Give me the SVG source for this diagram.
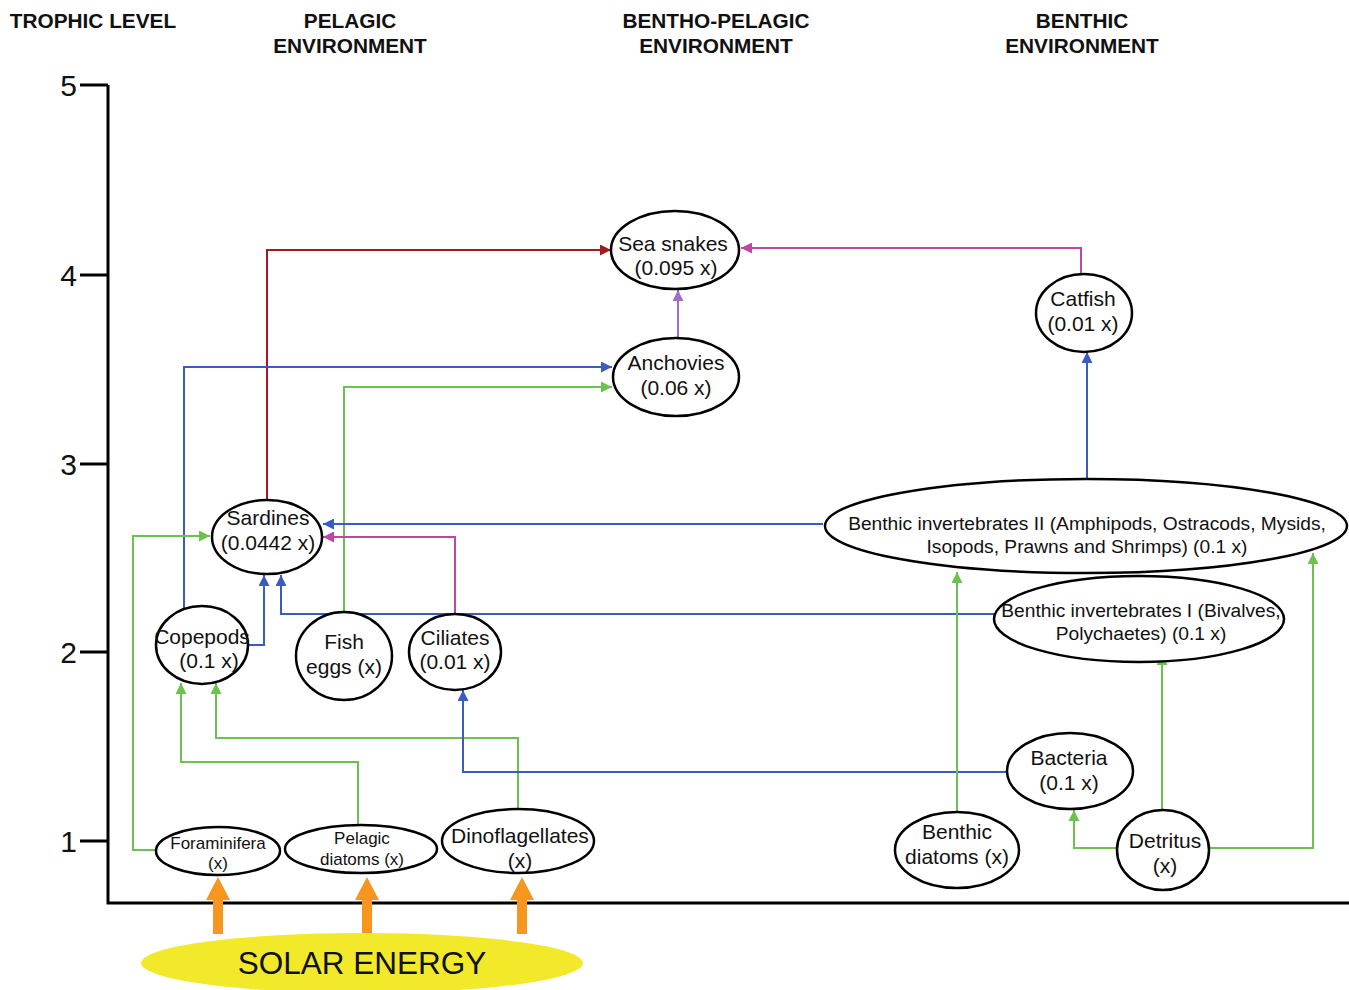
<svg xmlns="http://www.w3.org/2000/svg" width="1349" height="990" viewBox="0 0 1349 990">
<style>
.hdr{font-family:"Liberation Sans",Arial,sans-serif;font-weight:bold;font-size:20.8px;fill:#111;text-anchor:middle}
.ax{font-family:"Liberation Sans",Arial,sans-serif;font-size:30px;fill:#111;text-anchor:end}
.t{font-family:"Liberation Sans",Arial,sans-serif;font-size:21px;fill:#111;text-anchor:middle}
.ts{font-family:"Liberation Sans",Arial,sans-serif;font-size:17px;fill:#111;text-anchor:middle}
.tb{font-family:"Liberation Sans",Arial,sans-serif;font-size:19.2px;fill:#111;text-anchor:middle}
.n{fill:#fff;stroke:#000;stroke-width:2.5}
.c{fill:none;stroke-width:2}
.blue{stroke:#3a5cc0}
.green{stroke:#6cc24e}
.red{stroke:#a01a20}
.mag{stroke:#c0479f}
.pur{stroke:#a070c4}
</style>
<defs>
<marker id="ab" viewBox="0 0 10 10" refX="10" refY="5" markerWidth="5.5" markerHeight="5.5" orient="auto"><path d="M0,0 L10,5 L0,10 z" fill="#3a5cc0"/></marker>
<marker id="ag" viewBox="0 0 10 10" refX="10" refY="5" markerWidth="5.5" markerHeight="5.5" orient="auto"><path d="M0,0 L10,5 L0,10 z" fill="#6cc24e"/></marker>
<marker id="ar" viewBox="0 0 10 10" refX="10" refY="5" markerWidth="5.5" markerHeight="5.5" orient="auto"><path d="M0,0 L10,5 L0,10 z" fill="#a01a20"/></marker>
<marker id="am" viewBox="0 0 10 10" refX="10" refY="5" markerWidth="5.5" markerHeight="5.5" orient="auto"><path d="M0,0 L10,5 L0,10 z" fill="#c0479f"/></marker>
<marker id="ap" viewBox="0 0 10 10" refX="10" refY="5" markerWidth="5.5" markerHeight="5.5" orient="auto"><path d="M0,0 L10,5 L0,10 z" fill="#a070c4"/></marker>
<path id="orange" d="M-5,0 L-5,-34 L-12,-34 L0,-57 L12,-34 L5,-34 L5,0 z" fill="#f7961e"/>
</defs>
<rect width="1349" height="990" fill="#fff"/>

<g id="headers">
<text x="93" y="28" class="hdr">TROPHIC LEVEL</text>
<text x="350" y="28" class="hdr">PELAGIC</text>
<text x="350" y="53" class="hdr">ENVIRONMENT</text>
<text x="716" y="28" class="hdr">BENTHO-PELAGIC</text>
<text x="716" y="53" class="hdr">ENVIRONMENT</text>
<text x="1082" y="28" class="hdr">BENTHIC</text>
<text x="1082" y="53" class="hdr">ENVIRONMENT</text>
</g>

<g id="axes" stroke="#000" stroke-width="3" fill="none">
<path d="M108,85 L108,903 L1349,903"/>
<path d="M80,85 H108 M80,275 H108 M80,464 H108 M80,652 H108 M80,841 H108"/>
</g>
<g id="axis-labels">
<text x="77" y="96" class="ax">5</text>
<text x="77" y="286" class="ax">4</text>
<text x="77" y="475" class="ax">3</text>
<text x="77" y="663" class="ax">2</text>
<text x="77" y="852" class="ax">1</text>
</g>

<g id="connectors">
<path class="c red" d="M267,500 V250 H611" marker-end="url(#ar)"/>
<path class="c mag" d="M1081,274 V248 H741" marker-end="url(#am)"/>
<path class="c pur" d="M678,338 V290" marker-end="url(#ap)"/>
<path class="c blue" d="M184,608 V367 H612" marker-end="url(#ab)"/>
<path class="c green" d="M344,612 V387 H612" marker-end="url(#ag)"/>
<path class="c blue" d="M1087,478 V352" marker-end="url(#ab)"/>
<path class="c blue" d="M823,524 H323" marker-end="url(#ab)"/>
<path class="c mag" d="M455,614 V537 H323" marker-end="url(#am)"/>
<path class="c blue" d="M995,614 H281 V575" marker-end="url(#ab)"/>
<path class="c blue" d="M248,645 H264 V575" marker-end="url(#ab)"/>
<path class="c green" d="M157,850 H133 V536 H210" marker-end="url(#ag)"/>
<path class="c green" d="M358,826 V762 H181 V683" marker-end="url(#ag)"/>
<path class="c green" d="M518,809 V738 H216 V683" marker-end="url(#ag)"/>
<path class="c blue" d="M1007,772 H463 V690" marker-end="url(#ab)"/>
<path class="c green" d="M957,812 V572" marker-end="url(#ag)"/>
<path class="c green" d="M1162,810 V654" marker-end="url(#ag)"/>
<path class="c green" d="M1209,848 H1313 V553" marker-end="url(#ag)"/>
<path class="c green" d="M1117,848 H1074 V810" marker-end="url(#ag)"/>
</g>

<g id="sea-snakes"><ellipse class="n" cx="675" cy="250" rx="64" ry="39"/><text class="t" x="673" y="251">Sea snakes</text><text class="t" x="676" y="275">(0.095 x)</text></g>
<g id="anchovies"><ellipse class="n" cx="676" cy="377" rx="63" ry="39"/><text class="t" x="676" y="370">Anchovies</text><text class="t" x="676" y="395">(0.06 x)</text></g>
<g id="catfish"><ellipse class="n" cx="1084" cy="313" rx="48" ry="39"/><text class="t" x="1083" y="306">Catfish</text><text class="t" x="1083" y="331">(0.01 x)</text></g>
<g id="sardines"><ellipse class="n" cx="267" cy="537" rx="55" ry="37"/><text class="t" x="268" y="525">Sardines</text><text class="t" x="268" y="550">(0.0442 x)</text></g>
<g id="benthic-inv-2"><ellipse class="n" cx="1086" cy="526" rx="261" ry="47" stroke-width="4.5"/><text class="tb" x="1087" y="530">Benthic invertebrates II (Amphipods, Ostracods, Mysids,</text><text class="tb" x="1087" y="553">Isopods, Prawns and Shrimps) (0.1 x)</text></g>
<g id="benthic-inv-1"><ellipse class="n" cx="1139" cy="619" rx="145" ry="43"/><text class="tb" x="1141" y="617">Benthic invertebrates I (Bivalves,</text><text class="tb" x="1141" y="640">Polychaetes) (0.1 x)</text></g>
<g id="copepods"><ellipse class="n" cx="202" cy="645" rx="46" ry="39"/><text class="t" x="202" y="644">Copepods</text><text class="t" x="209" y="668">(0.1 x)</text></g>
<g id="fish-eggs"><ellipse class="n" cx="344" cy="656" rx="48" ry="44"/><text class="t" x="344" y="649">Fish</text><text class="t" x="344" y="674">eggs (x)</text></g>
<g id="ciliates"><ellipse class="n" cx="455" cy="652" rx="46" ry="38"/><text class="t" x="455" y="645">Ciliates</text><text class="t" x="455" y="669">(0.01 x)</text></g>
<g id="bacteria"><ellipse class="n" cx="1070" cy="771" rx="63" ry="38"/><text class="t" x="1069" y="765">Bacteria</text><text class="t" x="1069" y="790">(0.1 x)</text></g>
<g id="foraminifera"><ellipse class="n" cx="218" cy="851" rx="62" ry="24"/><text class="ts" x="218" y="849">Foraminifera</text><text class="ts" x="218" y="869">(x)</text></g>
<g id="pelagic-diatoms"><ellipse class="n" cx="361" cy="849" rx="76" ry="24"/><text class="ts" x="362" y="844">Pelagic</text><text class="ts" x="362" y="865">diatoms (x)</text></g>
<g id="dinoflagellates"><ellipse class="n" cx="518" cy="841" rx="76" ry="32"/><text class="t" x="520" y="843">Dinoflagellates</text><text class="t" x="520" y="868">(x)</text></g>
<g id="benthic-diatoms"><ellipse class="n" cx="957" cy="850" rx="62" ry="38"/><text class="t" x="957" y="839">Benthic</text><text class="t" x="957" y="864">diatoms (x)</text></g>
<g id="detritus"><ellipse class="n" cx="1163" cy="850" rx="46" ry="40"/><text class="t" x="1165" y="848">Detritus</text><text class="t" x="1165" y="873">(x)</text></g>

<g id="solar-arrows">
<use href="#orange" x="218" y="934"/>
<use href="#orange" x="367" y="934"/>
<use href="#orange" x="522" y="934"/>
</g>
<g id="solar-energy">
<ellipse cx="362" cy="963" rx="221" ry="30" fill="#f2e92a"/>
<text x="362" y="974" font-family="Liberation Sans, Arial, sans-serif" font-size="31.5" fill="#111" text-anchor="middle">SOLAR ENERGY</text>
</g>
</svg>
